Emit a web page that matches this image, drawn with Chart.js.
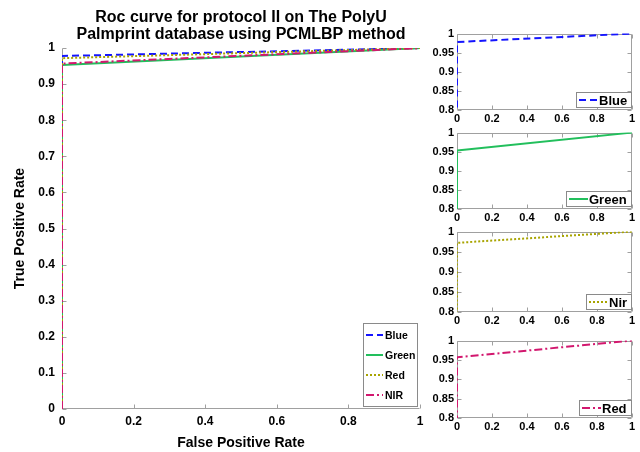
<!DOCTYPE html>
<html>
<head>
<meta charset="utf-8">
<script src="https://cdn.jsdelivr.net/npm/chart.js@4.4.1/dist/chart.umd.min.js"></script>
<style>
  body { margin: 0; background: #fff; width: 640px; height: 452px; position: relative; overflow: hidden; }
  canvas { position: absolute; }
</style>
</head>
<body>
<canvas id="mainChart" width="430" height="452" style="left:0;top:0"></canvas>
<canvas id="blueChart" width="220" height="101" style="left:420px;top:24px"></canvas>
<canvas id="greenChart" width="220" height="101" style="left:420px;top:123px"></canvas>
<canvas id="nirChart" width="220" height="105" style="left:420px;top:222px"></canvas>
<canvas id="redChart" width="220" height="102" style="left:420px;top:331px"></canvas>
<script>
// ROC points (false positive rate -> true positive rate)
const fprPts = [0, 0, 1];
const tprBlue = [0, 0.978, 1];
const tprGreen = [0, 0.953, 1];
const tprRed = [0, 0.972, 1];
const tprNir = [0, 0.957, 1];

const mainNames = ['Blue', 'Green', 'Red', 'NIR'];
const sideNames = ['Blue', 'Green', 'Nir', 'Red'];

const mainXTicks = [0, 0.2, 0.4, 0.6, 0.8, 1];
const mainYTicks = [0, 0.1, 0.2, 0.3, 0.4, 0.5, 0.6, 0.7, 0.8, 0.9, 1];
const sideXTicks = [0, 0.2, 0.4, 0.6, 0.8, 1];
const sideYTicks = [0.8, 0.85, 0.9, 0.95, 1];

// styles (blue, green, olive dotted, crimson dash-dot)
const lineColors = ['#1414ff', '#22bf5c', '#a8a400', '#d2176e'];
const lineDashes = [[7, 4], [], [2, 2], [8, 3, 2, 3]];

const family = '"Liberation Sans", Arial, Helvetica, sans-serif';
Chart.defaults.font.family = family;
Chart.defaults.color = '#000';
Chart.defaults.animation = false;

function makeSet(label, ys, i, order) {
  return {
    label,
    data: fprPts.map((x, k) => ({ x, y: ys[k] })),
    borderColor: lineColors[i],
    borderDash: lineDashes[i],
    borderWidth: 2,
    pointRadius: 0,
    fill: false,
    tension: 0,
    order: order || 0
  };
}

// gray axes box + small inward tick marks, like matlab
function framePlugin(fullBox) {
  return {
    id: 'frame',
    beforeDatasetsDraw(chart) {
      const { ctx, chartArea: a, scales: { x, y } } = chart;
      const L = Math.round(a.left) + 0.5, R = Math.round(a.right) - 0.5;
      const T = Math.round(a.top) + 0.5, B = Math.round(a.bottom) - 0.5;
      ctx.save();
      ctx.strokeStyle = '#a0a0a0';
      ctx.lineWidth = 1;
      ctx.beginPath();
      if (fullBox) {
        ctx.rect(L, T, R - L, B - T);
      } else {
        ctx.moveTo(L, T); ctx.lineTo(L, B); ctx.lineTo(R, B);
      }
      x.ticks.forEach(t => {
        const px = Math.round(x.getPixelForValue(t.value)) + 0.5;
        ctx.moveTo(px, B); ctx.lineTo(px, B - 4);
        if (fullBox) { ctx.moveTo(px, T); ctx.lineTo(px, T + 4); }
      });
      y.ticks.forEach(t => {
        const py = Math.round(y.getPixelForValue(t.value)) + 0.5;
        ctx.moveTo(L, py); ctx.lineTo(L + 4, py);
        if (fullBox) { ctx.moveTo(R, py); ctx.lineTo(R - 4, py); }
      });
      ctx.stroke();
      ctx.restore();
    }
  };
}

// boxed legend in the bottom right corner
function legendPlugin(names, cfg) {
  return {
    id: 'boxLegend',
    afterDraw(chart) {
      const { ctx, chartArea: a } = chart;
      const sets = chart.data.datasets;
      ctx.save();
      ctx.font = 'bold ' + cfg.size + 'px ' + family;
      const tw = Math.max(...names.map(n => ctx.measureText(n).width));
      const w = Math.round(cfg.padL + cfg.sample + cfg.gap + tw + cfg.padR);
      const h = cfg.rowH * names.length + cfg.padV * 2;
      const x0 = Math.round(a.right - cfg.offR - w), y0 = Math.round(a.bottom - cfg.offB - h);
      ctx.fillStyle = '#fff';
      ctx.fillRect(x0, y0, w, h);
      ctx.strokeStyle = '#8a8a8a';
      ctx.lineWidth = 1;
      ctx.strokeRect(x0 + 0.5, y0 + 0.5, w - 1, h - 1);
      names.forEach((n, i) => {
        const d = sets[i];
        const cy = y0 + cfg.padV + cfg.rowH * (i + 0.5);
        ctx.strokeStyle = d.borderColor;
        ctx.lineWidth = 2;
        ctx.setLineDash(d.borderDash);
        ctx.beginPath();
        ctx.moveTo(x0 + cfg.padL, cy);
        ctx.lineTo(x0 + cfg.padL + cfg.sample, cy);
        ctx.stroke();
        ctx.setLineDash([]);
        ctx.fillStyle = '#000';
        ctx.textBaseline = 'middle';
        ctx.textAlign = 'left';
        ctx.fillText(n, x0 + cfg.padL + cfg.sample + cfg.gap, cy + 1);
      });
      ctx.restore();
    }
  };
}

function fixedTicks(list) {
  return s => { s.ticks = list.map(v => ({ value: v })); };
}

// main ROC plot (later series drawn on top, as in the original)
new Chart(document.getElementById('mainChart'), {
  type: 'line',
  data: {
    datasets: [
      makeSet(mainNames[0], tprBlue, 0, 3),
      makeSet(mainNames[1], tprGreen, 1, 2),
      makeSet(mainNames[2], tprRed, 2, 1),
      makeSet(mainNames[3], tprNir, 3, 0)
    ]
  },
  options: {
    responsive: false,
    devicePixelRatio: 1,
    layout: { padding: { left: 0, right: 10, top: 0, bottom: 0 } },
    plugins: {
      legend: { display: false },
      tooltip: { enabled: false },
      title: {
        display: true,
        fullSize: false,
        text: ['Roc curve for protocol II on The PolyU', 'Palmprint database using PCMLBP method'],
        font: { size: 16, weight: 'bold', lineHeight: 1.08 },
        padding: { top: 9, bottom: 4.5 },
        color: '#000'
      }
    },
    scales: {
      x: {
        type: 'linear', min: 0, max: 1,
        afterBuildTicks: fixedTicks(mainXTicks),
        afterFit: s => { s.height = 43; },
        grid: { display: false, drawTicks: false },
        border: { display: false },
        ticks: { font: { size: 12, weight: 'bold' }, padding: 5, maxRotation: 0, autoSkip: false, callback: v => String(v) },
        title: { display: true, text: 'False Positive Rate', font: { size: 14, weight: 'bold' }, padding: { top: 0, bottom: 0 } }
      },
      y: {
        type: 'linear', min: 0, max: 1,
        afterBuildTicks: fixedTicks(mainYTicks),
        afterFit: s => { s.width = 62; },
        grid: { display: false, drawTicks: false },
        border: { display: false },
        ticks: { font: { size: 12, weight: 'bold' }, padding: 7, autoSkip: false, callback: v => String(v) },
        title: { display: true, text: 'True Positive Rate', font: { size: 14, weight: 'bold' }, padding: { top: 12, bottom: 0 } }
      }
    }
  },
  plugins: [framePlugin(false), legendPlugin(mainNames, { size: 10.5, rowH: 20, padV: 2, padL: 3, sample: 17, gap: 2, padR: 3, offR: 2, offB: 2 })]
});

// zoomed side plots, one per channel
const sidePlots = [
  { id: 'blueChart', ys: tprBlue, style: 0 },
  { id: 'greenChart', ys: tprGreen, style: 1 },
  { id: 'nirChart', ys: tprRed, style: 2 },
  { id: 'redChart', ys: tprNir, style: 3 }
];

sidePlots.forEach((p, i) => {
  new Chart(document.getElementById(p.id), {
    type: 'line',
    data: { datasets: [makeSet(sideNames[i], p.ys, p.style)] },
    options: {
      responsive: false,
      devicePixelRatio: 1,
      layout: { padding: { left: 0, right: 8, top: 8, bottom: 0 } },
      plugins: { legend: { display: false }, tooltip: { enabled: false } },
      scales: {
        x: {
          type: 'linear', min: 0, max: 1,
          afterBuildTicks: fixedTicks(sideXTicks),
          afterFit: s => { s.height = 15; },
          grid: { display: false, drawTicks: false },
          border: { display: false },
          ticks: { font: { size: 11, weight: 'bold' }, padding: 2, maxRotation: 0, autoSkip: false, callback: v => String(v) }
        },
        y: {
          type: 'linear', min: 0.8, max: 1,
          afterBuildTicks: fixedTicks(sideYTicks),
          afterFit: s => { s.width = 37; },
          grid: { display: false, drawTicks: false },
          border: { display: false },
          ticks: { font: { size: 11, weight: 'bold' }, padding: 3, autoSkip: false, callback: v => String(v) }
        }
      }
    },
    plugins: [framePlugin(true), legendPlugin([sideNames[i]], { size: 13, rowH: 14, padV: 1, padL: 3, sample: 19, gap: 1, padR: 5, offR: 0, offB: 2 })]
  });
});
</script>
</body>
</html>
